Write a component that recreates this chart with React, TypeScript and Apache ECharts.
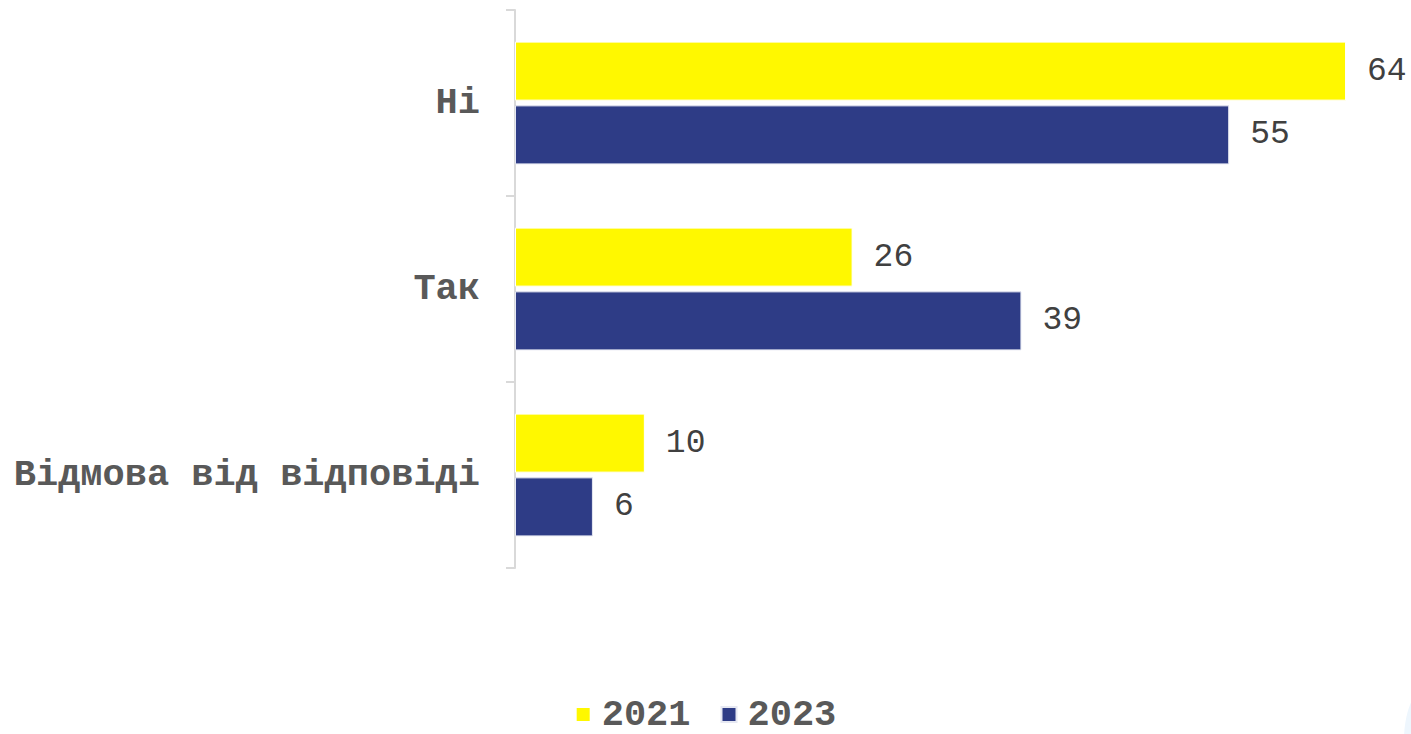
import React, { useEffect, useRef } from "react";
import * as echarts from "echarts";

const categories = ["Ні", "Так", "Відмова від відповіді"];
const seriesNames = ["2021", "2023"];
const values2021 = [64, 26, 10];
const values2023 = [55, 39, 6];
const colors = ["#FFF800", "#2E3C86"];

export default function App() {
  const ref = useRef<HTMLDivElement>(null);
  useEffect(() => {
    const chart = echarts.init(ref.current!, null, { renderer: "svg" });
    const labelStyle = {
      show: true,
      position: "right",
      distance: 21,
      fontFamily: "Liberation Mono",
      fontSize: 33,
      color: "#404040",
    };
    chart.setOption({
      animation: false,
      backgroundColor: "#ffffff",
      grid: { left: 515, right: 13, top: 10, bottom: 166, containLabel: false },
      xAxis: {
        type: "value",
        min: 0,
        max: 68,
        show: false,
      },
      yAxis: {
        type: "category",
        data: categories,
        inverse: true,
        axisLine: { show: true, lineStyle: { color: "#D9D9D9", width: 2 } },
        axisTick: { show: true, length: 9, lineStyle: { color: "#D9D9D9", width: 2 } },
        axisLabel: {
          margin: 35,
          fontFamily: "Liberation Mono",
          fontWeight: "bold",
          fontSize: 37,
          color: "#595959",
        },
        splitLine: { show: false },
      },
      legend: {
        top: 696,
        left: "center",
        padding: 0,
        itemWidth: 15,
        itemHeight: 15,
        itemGap: 30,
        icon: "rect",
        textStyle: {
          fontFamily: "Liberation Mono",
          fontWeight: "bold",
          fontSize: 37,
          lineHeight: 37,
          color: "#595959",
          padding: [0, 0, 0, 6],
        },
        data: seriesNames,
      },
      graphic: [
        {
          type: "ellipse",
          shape: { cx: 1430, cy: 740, rx: 26, ry: 55 },
          style: { fill: "#EEF6FD" },
          silent: true,
        },
      ],
      series: [
        {
          name: seriesNames[0],
          type: "bar",
          data: values2021,
          barCategoryGap: "34%",
          barGap: "8%",
          itemStyle: { color: colors[0], borderColor: "#ffffff", borderWidth: 1 },
          label: labelStyle,
        },
        {
          name: seriesNames[1],
          type: "bar",
          data: values2023,
          barCategoryGap: "34%",
          barGap: "8%",
          itemStyle: { color: colors[1], borderColor: "#E6E8F2", borderWidth: 1 },
          label: labelStyle,
        },
      ],
    });
    return () => chart.dispose();
  }, []);
  return (
    <div
      ref={ref}
      style={{ position: "fixed", left: 0, top: 0, width: 1411, height: 734 }}
    />
  );
}
